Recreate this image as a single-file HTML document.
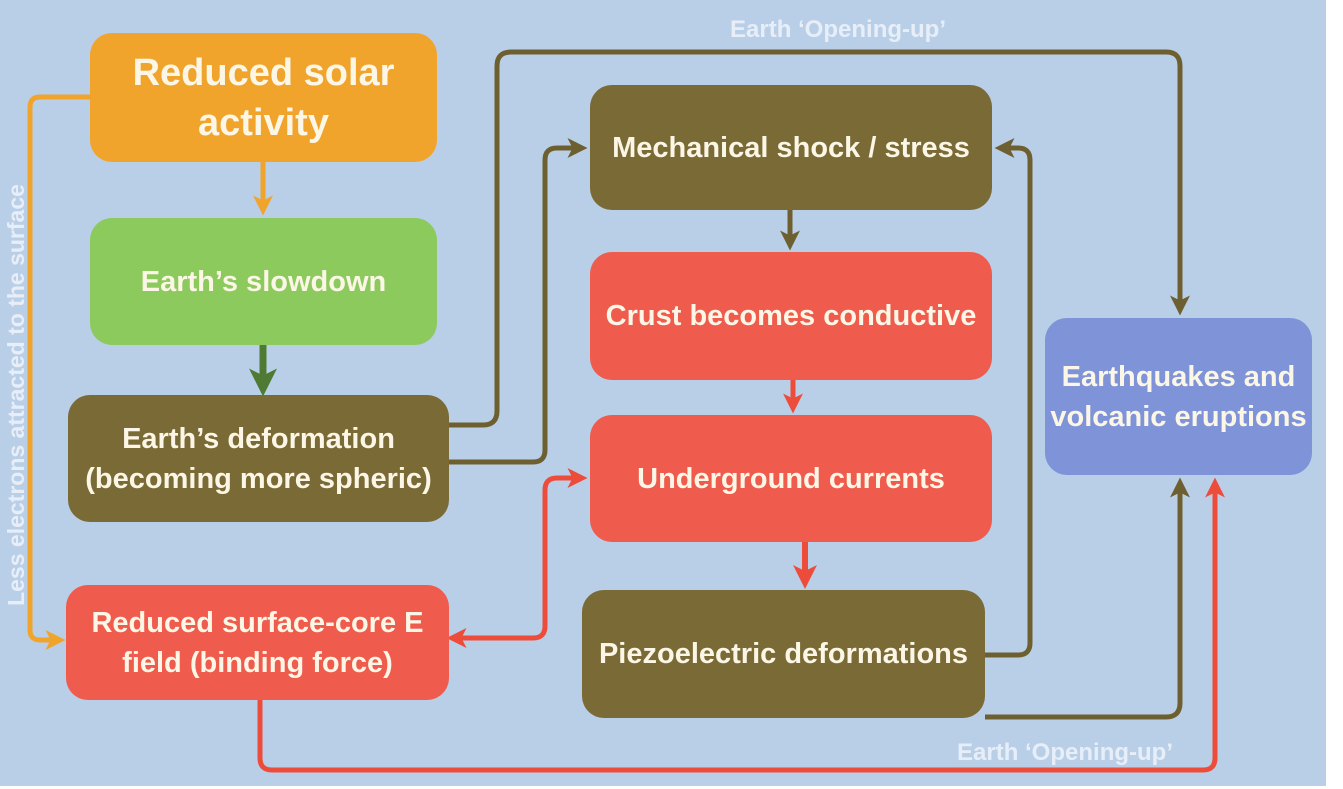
<!DOCTYPE html>
<html><head><meta charset="utf-8"><style>
html,body{margin:0;padding:0;background:#fff;}
body{width:1343px;height:789px;position:relative;overflow:hidden;font-family:"Liberation Sans",sans-serif;}
.bg{position:absolute;left:0;top:0;width:1326px;height:786px;background:#b9cfe8;}
.b{position:absolute;border-radius:22px;color:#fbf6e6;font-weight:bold;display:flex;align-items:center;justify-content:center;text-align:center;font-size:29px;line-height:40px;}
.o{background:#f0a42c}.g{background:#8dca5e}.k{background:#7a6a36}.r{background:#ef5b4c}.p{background:#7e93d8}
</style></head><body>
<div class="bg"></div>
<svg width="1343" height="789" style="position:absolute;left:0;top:0">
<defs>
<marker id="ao" markerWidth="4" markerHeight="4" refX="2.5" refY="2" orient="auto"><path d="M0,0 L4,2 L0,4 L1,2z" fill="#f0a42c"/></marker>
<marker id="ak" markerWidth="4" markerHeight="4" refX="2.5" refY="2" orient="auto"><path d="M0,0 L4,2 L0,4 L1,2z" fill="#6e5f30"/></marker>
<marker id="ag" markerWidth="4" markerHeight="4" refX="2.5" refY="2" orient="auto"><path d="M0,0 L4,2 L0,4 L1,2z" fill="#4e7a34"/></marker>
<marker id="ar" markerWidth="4" markerHeight="4" refX="2.5" refY="2" orient="auto"><path d="M0,0 L4,2 L0,4 L1,2z" fill="#ee4c3a"/></marker>
<marker id="ars" markerWidth="4" markerHeight="4" refX="1.5" refY="2" orient="auto-start-reverse"><path d="M0,0 L4,2 L0,4 L1,2z" fill="#ee4c3a"/></marker>
</defs>
<g fill="none" stroke-width="5">
<path d="M92,97 H40 Q30,97 30,107 V630 Q30,640 40,640 H58" stroke="#f0a42c" marker-end="url(#ao)"/>
<path d="M263,162 V208" stroke="#f0a42c" marker-end="url(#ao)"/>
<path d="M263,345 V386" stroke="#4e7a34" stroke-width="7" marker-end="url(#ag)"/>
<path d="M449,425 H483 Q497,425 497,411 V66 Q497,52 511,52 H1166 Q1180,52 1180,66 V308" stroke="#6e5f30" marker-end="url(#ak)"/>
<path d="M449,462 H533 Q545,462 545,450 V160 Q545,148 557,148 H580" stroke="#6e5f30" marker-end="url(#ak)"/>
<path d="M790,210 V243" stroke="#6e5f30" marker-end="url(#ak)"/>
<path d="M793,380 V406" stroke="#ee4c3a" marker-end="url(#ar)"/>
<path d="M805,542 V580" stroke="#ee4c3a" stroke-width="6" marker-end="url(#ar)"/>
<path d="M985,655 H1018 Q1030,655 1030,643 V160 Q1030,148 1018,148 H1002" stroke="#6e5f30" marker-end="url(#ak)"/>
<path d="M985,717 H1166 Q1180,717 1180,703 V485" stroke="#6e5f30" marker-end="url(#ak)"/>
<path d="M260,700 V758 Q260,770 272,770 H1203 Q1215,770 1215,758 V485" stroke="#ee4c3a" marker-end="url(#ar)"/>
<path d="M459,638 H533 Q545,638 545,626 V490 Q545,478 557,478 H580" stroke="#ee4c3a" marker-start="url(#ars)" marker-end="url(#ar)"/>
</g>
<text x="838" y="37" fill="#e8eef8" font-family="Liberation Sans" font-weight="bold" font-size="24" text-anchor="middle">Earth ‘Opening-up’</text>
<text x="1065" y="760" fill="#e8eef8" font-family="Liberation Sans" font-weight="bold" font-size="24" text-anchor="middle">Earth ‘Opening-up’</text>
<text transform="translate(24,395) rotate(-90)" fill="#e8eef8" font-family="Liberation Sans" font-weight="bold" font-size="23" text-anchor="middle">Less  electrons attracted to the  surface</text>
</svg>
<div class="b o" style="left:90px;top:33px;width:347px;height:129px;font-size:38px;line-height:50px">Reduced solar<br>activity</div>
<div class="b g" style="left:90px;top:218px;width:347px;height:127px">Earth’s slowdown</div>
<div class="b k" style="left:68px;top:395px;width:381px;height:127px">Earth’s deformation<br>(becoming more spheric)</div>
<div class="b r" style="left:66px;top:585px;width:383px;height:115px">Reduced surface-core E<br>field (binding force)</div>
<div class="b k" style="left:590px;top:85px;width:402px;height:125px">Mechanical shock / stress</div>
<div class="b r" style="left:590px;top:252px;width:402px;height:128px">Crust becomes conductive</div>
<div class="b r" style="left:590px;top:415px;width:402px;height:127px">Underground currents</div>
<div class="b k" style="left:582px;top:590px;width:403px;height:128px">Piezoelectric deformations</div>
<div class="b p" style="left:1045px;top:318px;width:267px;height:157px">Earthquakes and<br>volcanic eruptions</div>
</body></html>
